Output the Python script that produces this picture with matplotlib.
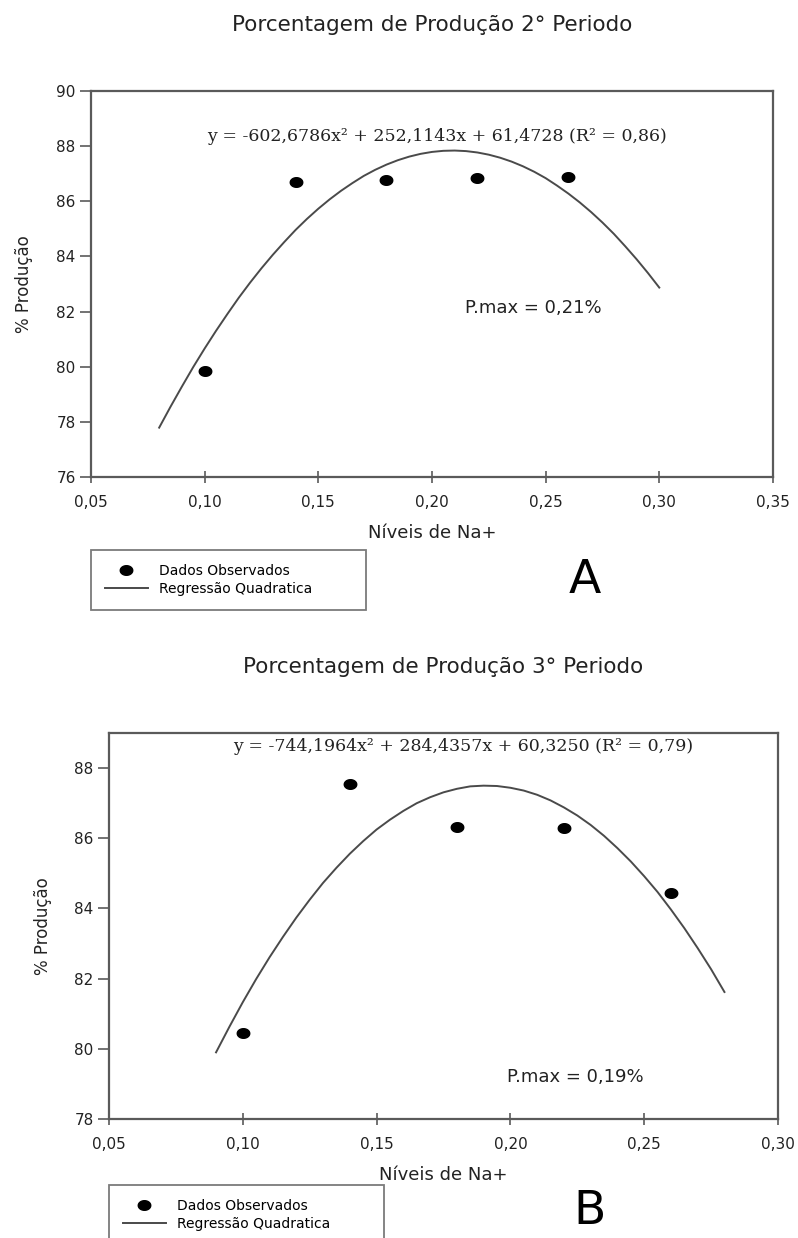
import matplotlib
matplotlib.use("Agg")
import matplotlib.pyplot as plt
from matplotlib.path import Path
from matplotlib.ticker import FuncFormatter
import numpy as np

niveis = [0.10, 0.14, 0.18, 0.22, 0.26]
prod_a = [79.85, 86.70, 86.77, 86.84, 86.88]
prod_b = [80.46, 87.55, 86.31, 86.29, 84.43]

# regression curves
curva_x_a = [0.080, 0.085, 0.090, 0.095, 0.100, 0.105, 0.110, 0.115, 0.120, 0.125,
             0.130, 0.135, 0.140, 0.145, 0.150, 0.155, 0.160, 0.165, 0.170, 0.175,
             0.180, 0.185, 0.190, 0.195, 0.200, 0.205, 0.210, 0.215, 0.220, 0.225,
             0.230, 0.235, 0.240, 0.245, 0.250, 0.255, 0.260, 0.265, 0.270, 0.275,
             0.280, 0.285, 0.290, 0.295, 0.300]
curva_y_a = [77.79, 78.55, 79.28, 79.99, 80.66, 81.30, 81.91, 82.50, 83.05, 83.57,
             84.06, 84.52, 84.96, 85.36, 85.73, 86.07, 86.38, 86.66, 86.92, 87.14,
             87.33, 87.49, 87.62, 87.72, 87.79, 87.83, 87.84, 87.82, 87.77, 87.69,
             87.58, 87.44, 87.27, 87.07, 86.84, 86.57, 86.28, 85.96, 85.61, 85.23,
             84.82, 84.37, 83.90, 83.40, 82.87]
curva_x_b = [0.090, 0.095, 0.100, 0.105, 0.110, 0.115, 0.120, 0.125, 0.130, 0.135,
             0.140, 0.145, 0.150, 0.155, 0.160, 0.165, 0.170, 0.175, 0.180, 0.185,
             0.190, 0.195, 0.200, 0.205, 0.210, 0.215, 0.220, 0.225, 0.230, 0.235,
             0.240, 0.245, 0.250, 0.255, 0.260, 0.265, 0.270, 0.275, 0.280]
curva_y_b = [79.90, 80.63, 81.33, 81.99, 82.61, 83.19, 83.74, 84.25, 84.73, 85.16,
             85.56, 85.92, 86.25, 86.53, 86.78, 87.00, 87.17, 87.31, 87.41, 87.48,
             87.50, 87.49, 87.44, 87.36, 87.24, 87.08, 86.88, 86.65, 86.38, 86.07,
             85.72, 85.34, 84.92, 84.47, 83.97, 83.44, 82.87, 82.27, 81.62]

titulos = ["Porcentagem de Produção 2° Periodo", "Porcentagem de Produção 3° Periodo"]
equacoes = ["y = -602,6786x² + 252,1143x + 61,4728 (R² = 0,86)",
            "y = -744,1964x² + 284,4357x + 60,3250 (R² = 0,79)"]
pmax = ["P.max = 0,21%", "P.max = 0,19%"]
letras = ["A", "B"]
rotulos_legenda = ["Dados Observados", "Regressão Quadratica"]

# slightly wide ellipse marker (the picture is stretched horizontally)
t = np.linspace(0, 2 * np.pi, 40)
elipse = Path(np.column_stack([1.3 * np.cos(t), np.sin(t)]), closed=True)

virgula = FuncFormatter(lambda v, p: f"{v:.2f}".replace(".", ","))

fig = plt.figure(figsize=(7.98, 12.38), dpi=100)
axA = fig.add_axes([0.114, 0.6147, 0.8546, 0.3118])
axB = fig.add_axes([0.1366, 0.0961, 0.8383, 0.3118])

cfg = [
    dict(ax=axA, py=prod_a, cx=curva_x_a, cy=curva_y_a, xlim=(0.05, 0.35), ylim=(76, 90),
         yt=range(76, 91, 2), xt=np.arange(0.05, 0.351, 0.05),
         tit=(0.541, 0.980), eq=(0.507, 0.881), pm=(0.648, 0.438),
         let=(0.733, 0.5315), leg=(0.114, 0.5557)),
    dict(ax=axB, py=prod_b, cx=curva_x_b, cy=curva_y_b, xlim=(0.05, 0.30), ylim=(78, 89),
         yt=range(78, 89, 2), xt=np.arange(0.05, 0.301, 0.05),
         tit=(0.555, 0.461), eq=(0.529, 0.964), pm=(0.697, 0.109),
         let=(0.739, 0.0215), leg=(0.1366, 0.0428)),
]

for i, c in enumerate(cfg):
    ax = c["ax"]
    h1, = ax.plot(niveis, c["py"], linestyle="none", marker=elipse, markersize=9,
                  color="black", label=rotulos_legenda[0])
    h2, = ax.plot(c["cx"], c["cy"], color="#4a4a4a", linewidth=1.4, label=rotulos_legenda[1])
    ax.set_xlim(*c["xlim"])
    ax.set_ylim(*c["ylim"])
    ax.set_xticks(c["xt"])
    ax.set_yticks(list(c["yt"]))
    ax.xaxis.set_major_formatter(virgula)
    for s in ax.spines.values():
        s.set_color("#5a5a5a")
        s.set_linewidth(1.6)
    ax.tick_params(axis="x", direction="inout", length=8, width=1.2, pad=9,
                   labelsize=11, colors="#5a5a5a", labelcolor="#222222")
    ax.tick_params(axis="y", direction="out", length=8, width=1.2, pad=3,
                   labelsize=11, colors="#5a5a5a", labelcolor="#222222")
    ax.set_xlabel("Níveis de Na+", fontsize=13, color="#222222")
    ax.xaxis.set_label_coords(0.5, -0.122)
    ax.set_ylabel("% Produção", fontsize=12, color="#222222")
    ax.yaxis.set_label_coords(-0.085, 0.5)

    ax.text(c["eq"][0], c["eq"][1], equacoes[i], transform=ax.transAxes,
            ha="center", va="center", fontsize=12.5, family="DejaVu Serif", color="#222222")
    ax.text(c["pm"][0], c["pm"][1], pmax[i], transform=ax.transAxes,
            ha="center", va="center", fontsize=13, color="#222222")

    fig.text(c["tit"][0], c["tit"][1], titulos[i], ha="center", va="center",
             fontsize=15.5, color="#222222")
    fig.text(c["let"][0], c["let"][1], letras[i], ha="center", va="center",
             fontsize=34, color="black")

    leg = ax.legend(handles=[h1, h2], loc="upper left",
                    bbox_to_anchor=(c["leg"][0], c["leg"][1] - 0.0477, 0.345, 0.0477),
                    bbox_transform=fig.transFigure, mode="expand", borderaxespad=0,
                    fontsize=10, frameon=True, fancybox=False, handlelength=3.1,
                    handletextpad=0.8, labelspacing=0.3, borderpad=1.0)
    leg.get_frame().set_edgecolor("#5a5a5a")
    leg.get_frame().set_linewidth(1.3)

fig.savefig("out.png", dpi=100)
